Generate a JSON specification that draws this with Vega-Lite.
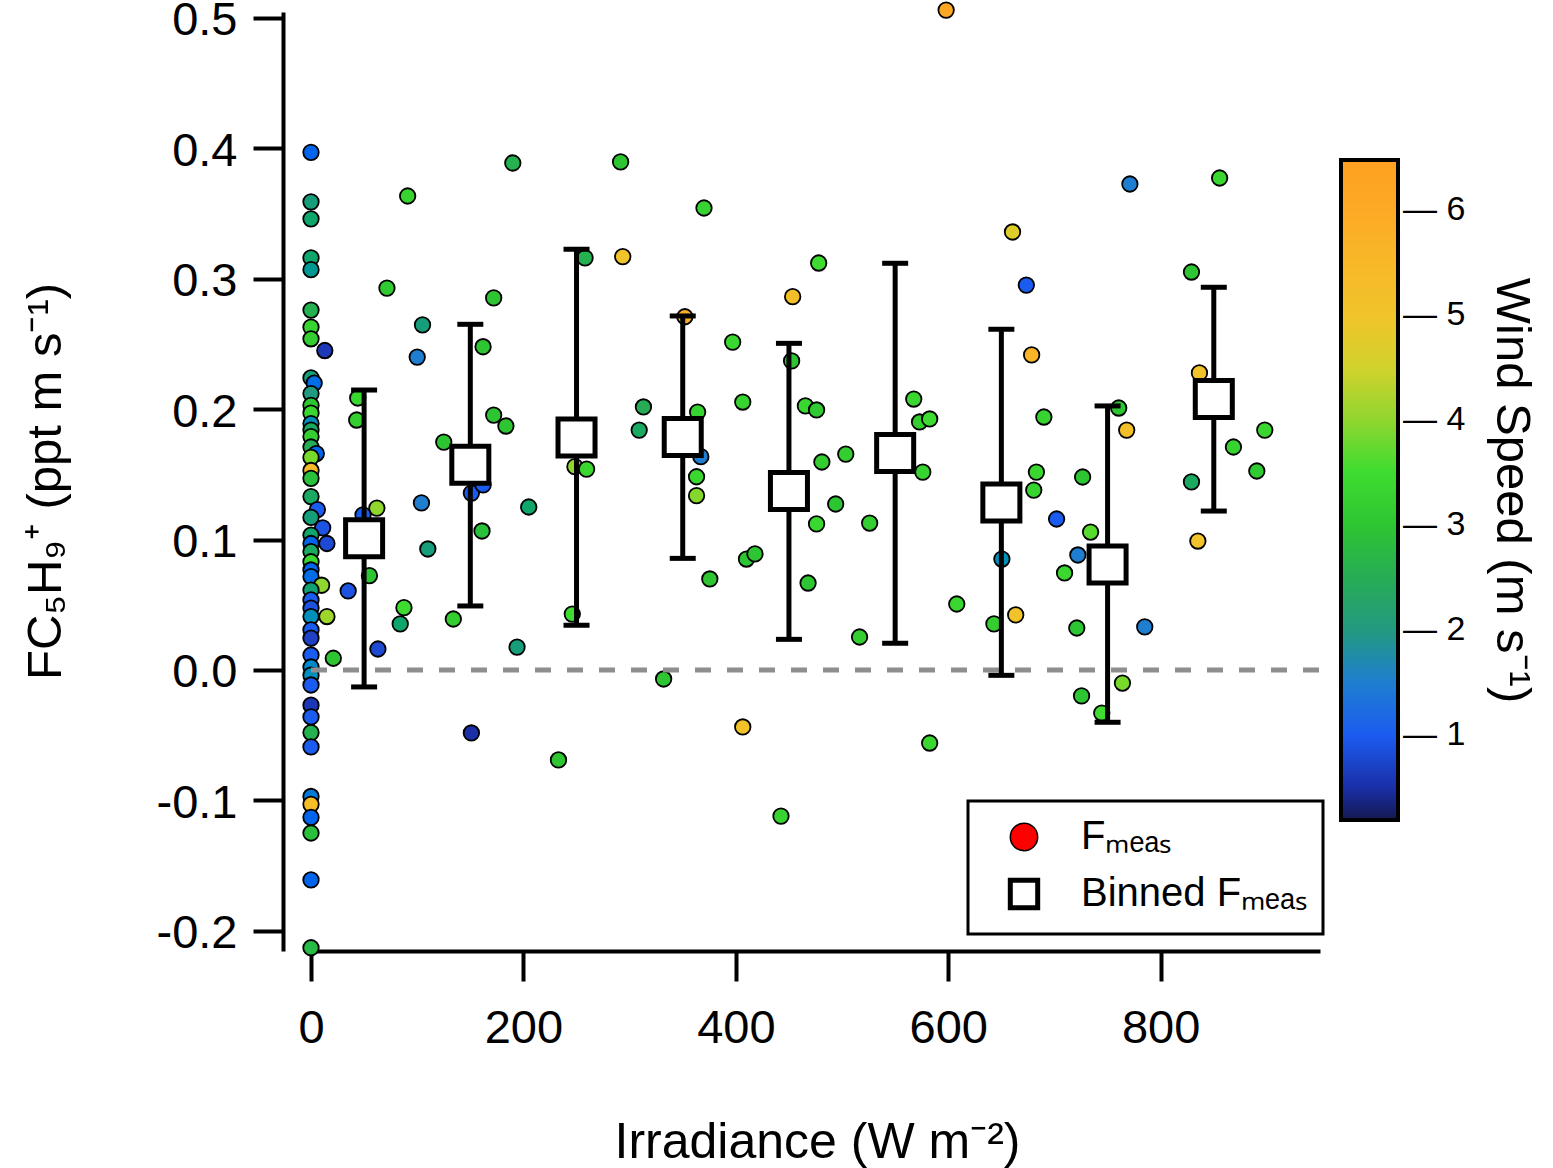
{
  "$schema": "https://vega.github.io/schema/vega-lite/v6.json",
  "width": 1009,
  "height": 939,
  "autosize": {"type": "none"},
  "padding": {"left": 311, "top": 12, "right": 233, "bottom": 217},
  "config": {
    "font": "Liberation Sans",
    "view": {"stroke": null},
    "legend": {"strokeWidth": 3},
    "axis": {
      "grid": false,
      "labelColor": "black",
      "labelFontSize": 47,
      "labelFlush": false,
      "labelOverlap": false,
      "tickColor": "black",
      "tickWidth": 4,
      "tickSize": 30,
      "domainColor": "black",
      "domainWidth": 4,
      "titleColor": "black",
      "titleFontSize": 49,
      "titleFontWeight": "normal"
    }
  },
  "datasets": {
    "meas": [
      {"irr": 0, "flux": 0.397, "ws": 1.1}, {"irr": 0, "flux": 0.359, "ws": 2.1}, {"irr": 0, "flux": 0.346, "ws": 2.3},
      {"irr": 0, "flux": 0.316, "ws": 2.3}, {"irr": 0, "flux": 0.307, "ws": 1.9}, {"irr": 0, "flux": 0.276, "ws": 2.6},
      {"irr": 0, "flux": 0.263, "ws": 3.3}, {"irr": 0, "flux": 0.254, "ws": 3.2}, {"irr": 13, "flux": 0.245, "ws": 0.6},
      {"irr": 0, "flux": 0.224, "ws": 2.1}, {"irr": 3, "flux": 0.22, "ws": 1.2}, {"irr": 0, "flux": 0.212, "ws": 2.0},
      {"irr": 0, "flux": 0.203, "ws": 3.0}, {"irr": 0, "flux": 0.197, "ws": 3.4}, {"irr": 0, "flux": 0.189, "ws": 1.7},
      {"irr": 0, "flux": 0.184, "ws": 2.4}, {"irr": 0, "flux": 0.179, "ws": 3.2}, {"irr": 0, "flux": 0.171, "ws": 2.5},
      {"irr": 5, "flux": 0.166, "ws": 1.1}, {"irr": 0, "flux": 0.163, "ws": 3.8}, {"irr": 0, "flux": 0.153, "ws": 5.4},
      {"irr": 0, "flux": 0.147, "ws": 2.9}, {"irr": 0, "flux": 0.133, "ws": 2.4}, {"irr": 6, "flux": 0.123, "ws": 1.0},
      {"irr": 0, "flux": 0.117, "ws": 2.1}, {"irr": 11, "flux": 0.109, "ws": 0.9}, {"irr": 0, "flux": 0.1035, "ws": 2.3},
      {"irr": 0, "flux": 0.097, "ws": 1.1}, {"irr": 15, "flux": 0.097, "ws": 0.8}, {"irr": 0, "flux": 0.0907, "ws": 2.4},
      {"irr": 0, "flux": 0.083, "ws": 3.4}, {"irr": 0, "flux": 0.0767, "ws": 1.1}, {"irr": 0, "flux": 0.0716, "ws": 1.2},
      {"irr": 10, "flux": 0.065, "ws": 4.0}, {"irr": 0, "flux": 0.0613, "ws": 2.2}, {"irr": 0, "flux": 0.0537, "ws": 1.0},
      {"irr": 0, "flux": 0.0475, "ws": 0.9}, {"irr": 0, "flux": 0.041, "ws": 1.7}, {"irr": 15, "flux": 0.041, "ws": 4.1},
      {"irr": 0, "flux": 0.0307, "ws": 1.0}, {"irr": 0, "flux": 0.0245, "ws": 0.7}, {"irr": 0, "flux": 0.0115, "ws": 1.0},
      {"irr": 21, "flux": 0.009, "ws": 3.0}, {"irr": 0, "flux": 0.0023, "ws": 1.6}, {"irr": 0, "flux": -0.004, "ws": 1.7},
      {"irr": 0, "flux": -0.0115, "ws": 1.0}, {"irr": 0, "flux": -0.027, "ws": 0.6}, {"irr": 0, "flux": -0.036, "ws": 1.0},
      {"irr": 0, "flux": -0.048, "ws": 2.6}, {"irr": 0, "flux": -0.059, "ws": 1.0}, {"irr": 0, "flux": -0.097, "ws": 1.4},
      {"irr": 0, "flux": -0.103, "ws": 5.3}, {"irr": 0, "flux": -0.113, "ws": 1.1}, {"irr": 0, "flux": -0.125, "ws": 2.9},
      {"irr": 0, "flux": -0.161, "ws": 1.1}, {"irr": 0, "flux": -0.213, "ws": 2.8},
      {"irr": 35, "flux": 0.0606, "ws": 0.9}, {"irr": 44, "flux": 0.2086, "ws": 3.4}, {"irr": 43, "flux": 0.1917, "ws": 3.2},
      {"irr": 62, "flux": 0.1242, "ws": 4.0}, {"irr": 49, "flux": 0.1189, "ws": 1.0}, {"irr": 55, "flux": 0.0723, "ws": 3.0},
      {"irr": 87.5, "flux": 0.0478, "ws": 3.5}, {"irr": 84, "flux": 0.0353, "ws": 2.3}, {"irr": 63, "flux": 0.0161, "ws": 0.8},
      {"irr": 104, "flux": 0.1281, "ws": 1.5}, {"irr": 110, "flux": 0.0928, "ws": 2.1}, {"irr": 134, "flux": 0.0391, "ws": 3.2},
      {"irr": 151, "flux": -0.0483, "ws": 0.5}, {"irr": 233, "flux": -0.069, "ws": 3.0}, {"irr": 194, "flux": 0.0176, "ws": 2.1},
      {"irr": 205, "flux": 0.125, "ws": 2.3}, {"irr": 161, "flux": 0.1066, "ws": 2.9}, {"irr": 151, "flux": 0.1357, "ws": 1.0},
      {"irr": 162, "flux": 0.1419, "ws": 1.0}, {"irr": 246, "flux": 0.0429, "ws": 3.5}, {"irr": 91, "flux": 0.3635, "ws": 3.3},
      {"irr": 190, "flux": 0.3888, "ws": 2.6}, {"irr": 291.5, "flux": 0.3896, "ws": 3.0}, {"irr": 258, "flux": 0.316, "ws": 2.6},
      {"irr": 293.5, "flux": 0.317, "ws": 5.0}, {"irr": 71.5, "flux": 0.2929, "ws": 3.1}, {"irr": 172, "flux": 0.2853, "ws": 3.0},
      {"irr": 105, "flux": 0.2646, "ws": 2.1}, {"irr": 100, "flux": 0.24, "ws": 1.5}, {"irr": 162, "flux": 0.2479, "ws": 3.0},
      {"irr": 172, "flux": 0.1955, "ws": 3.0}, {"irr": 183.5, "flux": 0.1871, "ws": 3.0}, {"irr": 125, "flux": 0.1748, "ws": 3.0},
      {"irr": 248.5, "flux": 0.1559, "ws": 4.0}, {"irr": 259.5, "flux": 0.1541, "ws": 3.4}, {"irr": 313, "flux": 0.2017, "ws": 2.5},
      {"irr": 309, "flux": 0.184, "ws": 2.4}, {"irr": 598, "flux": 0.5061, "ws": 6.1}, {"irr": 370, "flux": 0.3543, "ws": 3.3},
      {"irr": 478, "flux": 0.3121, "ws": 3.5}, {"irr": 453.5, "flux": 0.2863, "ws": 5.2}, {"irr": 352, "flux": 0.2709, "ws": 5.8},
      {"irr": 397, "flux": 0.2515, "ws": 3.4}, {"irr": 452.5, "flux": 0.237, "ws": 3.0}, {"irr": 364, "flux": 0.1978, "ws": 3.3},
      {"irr": 406.5, "flux": 0.2055, "ws": 3.3}, {"irr": 465.5, "flux": 0.2025, "ws": 3.4}, {"irr": 476, "flux": 0.1994, "ws": 3.1},
      {"irr": 567.5, "flux": 0.2078, "ws": 3.4}, {"irr": 573, "flux": 0.1902, "ws": 3.2}, {"irr": 582.5, "flux": 0.1925, "ws": 3.5},
      {"irr": 367, "flux": 0.1636, "ws": 1.5}, {"irr": 363, "flux": 0.1482, "ws": 3.4}, {"irr": 363, "flux": 0.1337, "ws": 3.9},
      {"irr": 481, "flux": 0.1595, "ws": 3.2}, {"irr": 503.5, "flux": 0.1656, "ws": 3.2}, {"irr": 494, "flux": 0.1273, "ws": 3.0},
      {"irr": 476, "flux": 0.112, "ws": 3.4}, {"irr": 526, "flux": 0.1127, "ws": 3.2}, {"irr": 468, "flux": 0.0667, "ws": 3.0},
      {"irr": 410, "flux": 0.0851, "ws": 3.0}, {"irr": 418, "flux": 0.089, "ws": 3.0}, {"irr": 375.5, "flux": 0.0698, "ws": 3.0},
      {"irr": 516.5, "flux": 0.0253, "ws": 3.2}, {"irr": 608, "flux": 0.0506, "ws": 3.4}, {"irr": 576, "flux": 0.1518, "ws": 3.3},
      {"irr": 332, "flux": -0.0069, "ws": 3.0}, {"irr": 406.5, "flux": -0.0437, "ws": 5.1}, {"irr": 582.5, "flux": -0.056, "ws": 3.4},
      {"irr": 442.5, "flux": -0.112, "ws": 3.3}, {"irr": 771, "flux": 0.3727, "ws": 1.5}, {"irr": 855.5, "flux": 0.3773, "ws": 3.4},
      {"irr": 660.5, "flux": 0.3359, "ws": 4.7}, {"irr": 673.5, "flux": 0.2952, "ws": 1.0}, {"irr": 829, "flux": 0.3052, "ws": 3.0},
      {"irr": 678.5, "flux": 0.2416, "ws": 5.6}, {"irr": 836.5, "flux": 0.2278, "ws": 5.1}, {"irr": 690, "flux": 0.194, "ws": 3.3},
      {"irr": 760.5, "flux": 0.2009, "ws": 3.0}, {"irr": 768, "flux": 0.184, "ws": 5.2}, {"irr": 898, "flux": 0.184, "ws": 3.4},
      {"irr": 868.5, "flux": 0.171, "ws": 3.3}, {"irr": 890.5, "flux": 0.1526, "ws": 3.1}, {"irr": 683, "flux": 0.1518, "ws": 3.4},
      {"irr": 680.5, "flux": 0.138, "ws": 3.3}, {"irr": 726.5, "flux": 0.148, "ws": 3.0}, {"irr": 829, "flux": 0.1442, "ws": 2.4},
      {"irr": 702, "flux": 0.1158, "ws": 1.0}, {"irr": 734, "flux": 0.1058, "ws": 3.6}, {"irr": 650.5, "flux": 0.0851, "ws": 1.7},
      {"irr": 722, "flux": 0.0882, "ws": 1.5}, {"irr": 709.5, "flux": 0.0744, "ws": 3.4}, {"irr": 643, "flux": 0.0353, "ws": 3.2},
      {"irr": 663.5, "flux": 0.0422, "ws": 5.1}, {"irr": 721, "flux": 0.0322, "ws": 3.0}, {"irr": 785, "flux": 0.033, "ws": 1.5},
      {"irr": 835, "flux": 0.0989, "ws": 5.0}, {"irr": 764, "flux": -0.01, "ws": 3.8}, {"irr": 725.5, "flux": -0.0199, "ws": 3.0},
      {"irr": 744.5, "flux": -0.033, "ws": 3.5}
    ],
    "binned": [
      {"irr": 50, "flux": 0.101, "lo": -0.013, "hi": 0.2147},
      {"irr": 150, "flux": 0.1574, "lo": 0.0491, "hi": 0.2651},
      {"irr": 250, "flux": 0.1783, "lo": 0.0343, "hi": 0.3226},
      {"irr": 350, "flux": 0.1787, "lo": 0.0856, "hi": 0.2715},
      {"irr": 450, "flux": 0.1373, "lo": 0.0235, "hi": 0.2505},
      {"irr": 550, "flux": 0.1664, "lo": 0.0205, "hi": 0.3119},
      {"irr": 650, "flux": 0.1284, "lo": -0.0041, "hi": 0.2613},
      {"irr": 750, "flux": 0.0809, "lo": -0.0401, "hi": 0.2025},
      {"irr": 850, "flux": 0.2078, "lo": 0.1219, "hi": 0.2935}
    ],
    "zero": [{"start": 0, "end": 950, "flux": 0}]
  },
  "layer": [
    {
      "data": {"name": "meas"},
      "mark": {"type": "point", "filled": true, "size": 240, "stroke": "black", "strokeWidth": 1.8, "opacity": 1},
      "encoding": {
        "x": {
          "field": "irr", "type": "quantitative",
          "scale": {"domain": [0, 950], "nice": false, "zero": false},
          "axis": {
            "values": [0, 200, 400, 600, 800], "format": "d", "labelPadding": 24,
            "title": "Irradiance (W m⁻²)", "titleFontSize": 50, "titleX": 506, "titleY": 206,
            "titleAlign": "center", "titleBaseline": "alphabetic"
          }
        },
        "y": {
          "field": "flux", "type": "quantitative",
          "scale": {"domain": [-0.2155, 0.5046], "nice": false, "zero": false},
          "axis": {
            "values": [-0.2, -0.1, 0, 0.1, 0.2, 0.3, 0.4, 0.5],
            "labelExpr": "replace(format(datum.value, '.1f'), '\u2212', '-')",
            "offset": 28, "labelPadding": 16, "labelOffset": 3,
            "title": "FC₅H₉⁺ (ppt m s⁻¹)", "titleAngle": -90, "titleX": -223, "titleY": 469,
            "titleAlign": "center", "titleBaseline": "alphabetic"
          }
        },
        "color": {
          "field": "ws", "type": "quantitative",
          "scale": {
            "domain": [0.19, 0.5, 1, 1.5, 2, 2.5, 3, 3.5, 4, 4.5, 5, 5.5, 6, 6.48],
            "range": ["#141850", "#1a2fa8", "#1b5cf0", "#1f7ed0", "#229a80", "#27ac55", "#2ec532", "#3edc30", "#8fd62f", "#d2d22c", "#f0c42a", "#f8b828", "#fcaa25", "#ffa020"]
          },
          "legend": {
            "orient": "none", "legendX": 1030, "legendY": 148, "padding": 0,
            "direction": "vertical", "title": null,
            "gradientLength": 660, "gradientThickness": 57,
            "gradientStrokeColor": "black", "gradientStrokeWidth": 4,
            "values": [1, 2, 3, 4, 5, 6],
            "labelExpr": "'— ' + format(datum.value, 'd')",
            "labelFontSize": 34, "labelColor": "black", "labelOffset": 5
          }
        },
        "shape": {
          "datum": "meas", "type": "nominal",
          "scale": {"domain": ["meas", "binned"], "range": ["circle", "square"]},
          "legend": {
            "orient": "none", "legendX": 657, "legendY": 789, "title": null,
            "padding": 16, "rowPadding": 13,
            "strokeColor": "black",
            "symbolSize": 750, "symbolOffset": 20, "labelOffset": 37,
            "symbolFillColor": {"expr": "datum.value == 'meas' ? '#ff0000' : '#ffffff'"},
            "symbolStrokeColor": "black",
            "symbolStrokeWidth": {"expr": "datum.value == 'meas' ? 1.5 : 5"},
            "symbolOpacity": 1,
            "labelFontSize": 40, "labelColor": "black", "labelLimit": 500,
            "labelExpr": "datum.value == 'meas' ? 'Fₘₑₐₛ' : 'Binned Fₘₑₐₛ'"
          }
        }
      }
    },
    {
      "data": {"name": "zero"},
      "mark": {"type": "rule", "color": "#8e8e8e", "strokeWidth": 5, "strokeDash": [16, 16]},
      "encoding": {
        "x": {"field": "start", "type": "quantitative", "scale": {"domain": [0, 950], "nice": false, "zero": false}},
        "x2": {"field": "end"},
        "y": {
          "field": "flux", "type": "quantitative",
          "scale": {"domain": [-0.2155, 0.5046], "nice": false, "zero": false},
          "axis": {
            "orient": "right", "labels": false, "ticks": false, "domain": false,
            "title": "Wind Speed (m s⁻¹)", "titleAngle": 90, "titleX": 176, "titleY": 478,
            "titleAlign": "center", "titleBaseline": "alphabetic"
          }
        }
      }
    },
    {
      "data": {"name": "binned"},
      "mark": {"type": "rule", "color": "black", "strokeWidth": 5},
      "encoding": {
        "x": {"field": "irr", "type": "quantitative", "scale": {"domain": [0, 950], "nice": false, "zero": false}},
        "y": {"field": "lo", "type": "quantitative", "scale": {"domain": [-0.2155, 0.5046], "nice": false, "zero": false}, "axis": null},
        "y2": {"field": "hi"}
      }
    },
    {
      "data": {"name": "binned"},
      "mark": {"type": "tick", "orient": "horizontal", "color": "black", "size": 26, "thickness": 5, "opacity": 1},
      "encoding": {
        "x": {"field": "irr", "type": "quantitative", "scale": {"domain": [0, 950], "nice": false, "zero": false}},
        "y": {"field": "lo", "type": "quantitative", "scale": {"domain": [-0.2155, 0.5046], "nice": false, "zero": false}, "axis": null}
      }
    },
    {
      "data": {"name": "binned"},
      "mark": {"type": "tick", "orient": "horizontal", "color": "black", "size": 26, "thickness": 5, "opacity": 1},
      "encoding": {
        "x": {"field": "irr", "type": "quantitative", "scale": {"domain": [0, 950], "nice": false, "zero": false}},
        "y": {"field": "hi", "type": "quantitative", "scale": {"domain": [-0.2155, 0.5046], "nice": false, "zero": false}, "axis": null}
      }
    },
    {
      "data": {"name": "binned"},
      "mark": {"type": "point", "shape": "square", "filled": true, "fill": "white", "stroke": "black", "strokeWidth": 5, "size": 1370, "opacity": 1},
      "encoding": {
        "x": {"field": "irr", "type": "quantitative", "scale": {"domain": [0, 950], "nice": false, "zero": false}},
        "y": {"field": "flux", "type": "quantitative", "scale": {"domain": [-0.2155, 0.5046], "nice": false, "zero": false}, "axis": null}
      }
    }
  ],
  "resolve": {"axis": {"y": "independent"}}
}
